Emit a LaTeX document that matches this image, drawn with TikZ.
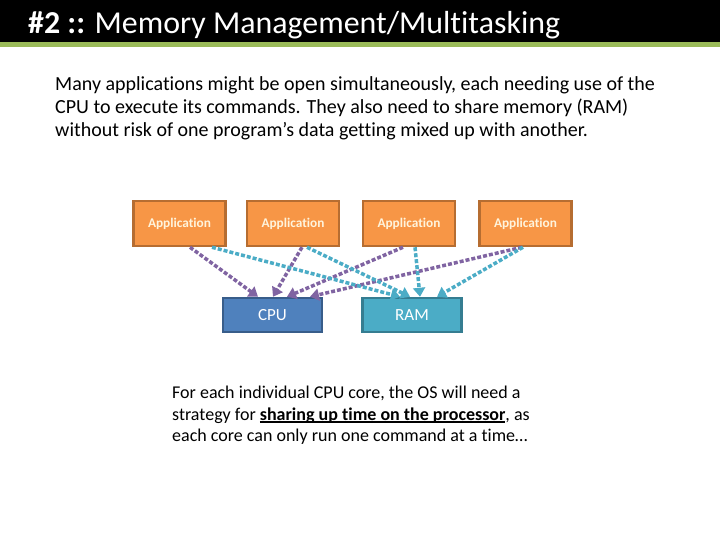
\documentclass[tikz,border=0pt]{standalone}
\usepackage{fontspec}
\setmainfont[Ligatures=NoCommon]{Carlito}
\usetikzlibrary{arrows.meta}
\definecolor{headgreen}{HTML}{9BBB59}
\definecolor{apporange}{HTML}{F79646}
\definecolor{appedge}{HTML}{B66D31}
\definecolor{cpublue}{HTML}{4F81BD}
\definecolor{cpuedge}{HTML}{385D8A}
\definecolor{ramteal}{HTML}{4BACC6}
\definecolor{ramedge}{HTML}{357D91}
\definecolor{linkpurple}{HTML}{8064A2}
\definecolor{appword}{HTML}{FFF4DC}
\newcommand\thickul[1]{\setbox0\hbox{#1}\rlap{\rule[-2.8pt]{\wd0}{1.6pt}}\box0}

\begin{document}
\begin{tikzpicture}[x=1pt,y=-1pt]
        \useasboundingbox (0,0) rectangle (720,540);
        \tikzset{
            app box/.style={
                draw=appedge, fill=apporange, line width=2.5pt,
                minimum width=92pt, minimum height=45pt,
                text=appword, font=\fontsize{13.3}{15}\selectfont\bfseries
            },
            unit box/.style={
                line width=2.5pt, minimum width=99pt, minimum height=34pt,
                text=white, font=\fontsize{17}{20}\selectfont
            },
            link/.style={
                line width=3.5pt, dash pattern=on 4pt off 2pt,
                -{Triangle[length=9pt,width=12pt]}
            }
        }

        % header bar
        \fill[black] (0,0) rectangle (720,42);
        \fill[headgreen] (0,42) rectangle (720,47);
        \node[anchor=base west, inner sep=0pt, text=white,
              font=\fontsize{31.9}{34}\selectfont] (title) at (28,34)
              {\textbf{\#2 ::} Memory Management/Multitasking};

        % intro text (anchored on its last line)
        \node[anchor=base west, inner sep=0pt, align=left,
              font=\fontsize{20}{23}\selectfont] (intro) at (55,136.5)
              {Many applications might be open simultaneously, each needing use of the\\
               CPU to execute its commands. They also need to share memory (RAM)\\
               without risk of one program’s data getting mixed up with another.};

        % applications
        \foreach \n/\x in {1/179.5, 2/293, 3/409, 4/525.5} {
            \node[app box] (app\n) at (\x,223.5) {Application};
        }

        % cpu and ram
        \node[unit box, draw=cpuedge, fill=cpublue] (cpu) at (272.5,315) {CPU};
        \node[unit box, draw=ramedge, fill=ramteal] (ram) at (412,315) {RAM};

        % app -> cpu
        \foreach \n/\a/\b in {1/10.5/-14.5, 2/9/0.5, 3/-6/14.5, 4/-3.5/37.5} {
            \draw[link, linkpurple] ([xshift=\a pt]app\n.south) -- ([xshift=\b pt]cpu.north);
        }
        % app -> ram
        \foreach \n/\a/\b in {1/32.5/-12, 2/14/-2, 3/6/8, 4/-2.5/25} {
            \draw[link, ramteal] ([xshift=\a pt]app\n.south) -- ([xshift=\b pt]ram.north);
        }

        % closing text (anchored on its last line)
        \node[anchor=base west, inner sep=0pt, align=left,
              font=\fontsize{18}{21.5}\selectfont] (note) at (172,441.5)
              {For each individual CPU core, the OS will need a\\
               strategy for \textbf{\thickul{sharing up time on the processor}}, as\\
               each core can only run one command at a time…};
\end{tikzpicture}
\end{document}
